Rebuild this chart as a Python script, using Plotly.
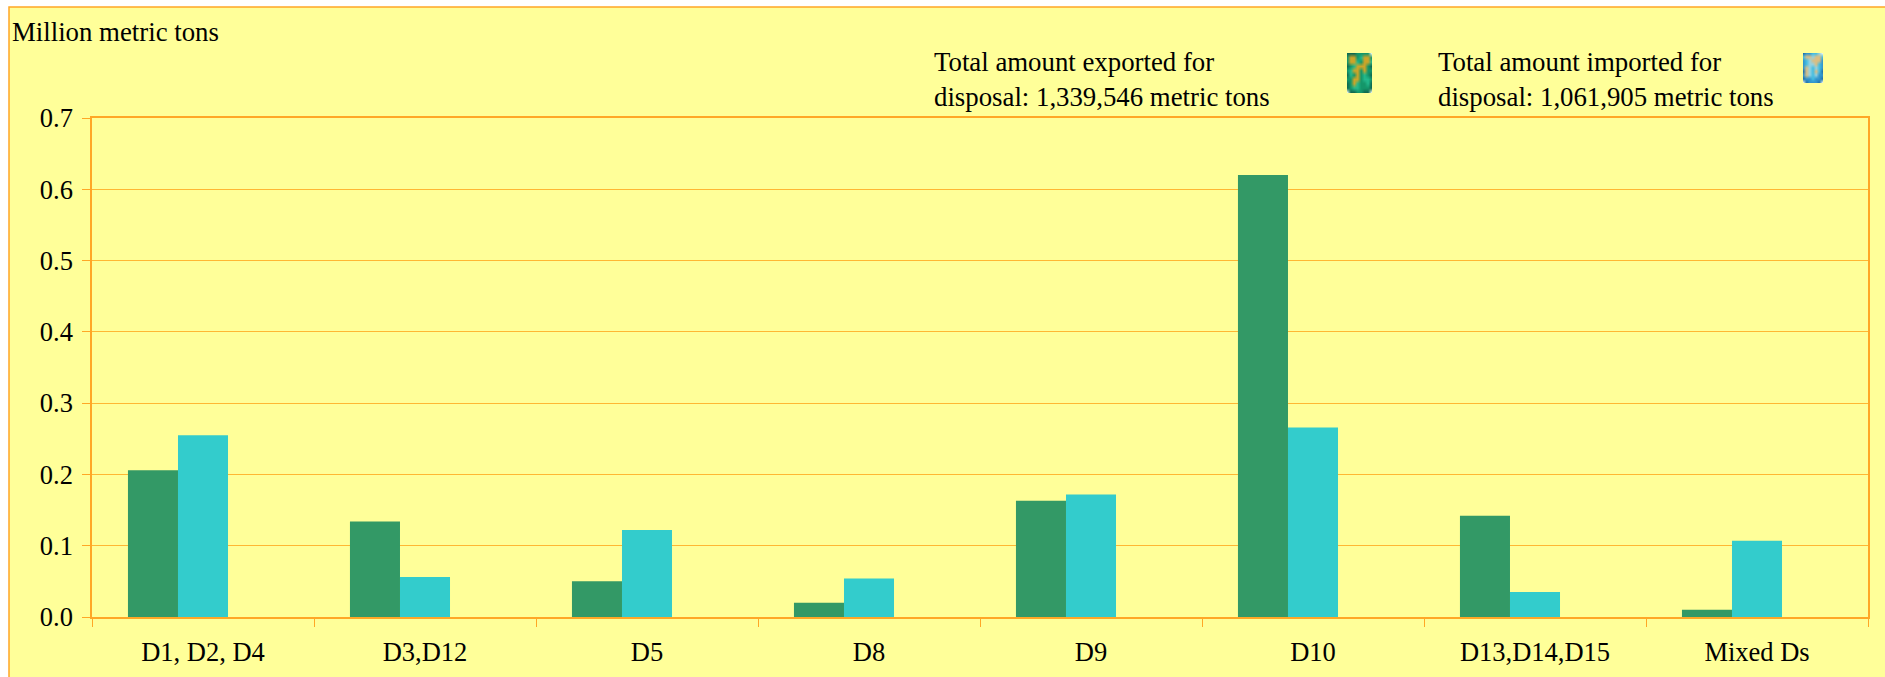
import base64, struct, zlib
import numpy as np
import plotly.graph_objects as go

categories = ["D1, D2, D4", "D3,D12", "D5", "D8", "D9", "D10", "D13,D14,D15", "Mixed Ds"]
exported = [0.206, 0.134, 0.050, 0.020, 0.163, 0.620, 0.142, 0.010]
imported = [0.255, 0.056, 0.122, 0.054, 0.172, 0.266, 0.035, 0.107]
empty_series = [None] * 8
y_ticks = [0, 0.1, 0.2, 0.3, 0.4, 0.5, 0.6, 0.7]
y_tick_labels = ["0.0", "0.1", "0.2", "0.3", "0.4", "0.5", "0.6", "0.7"]

W, H = 1885, 677
L, R, T, B = 92, 1868, 118, 617
YELLOW = "#FFFF99"
ORANGE = "#FFA726"
FONT = "Liberation Serif"


def px(x):
    return (x - L) / (R - L)


def py(y):
    return (B - y) / (B - T)


PAL = {
    "w": (235, 245, 235), "g": (20, 150, 105), "d": (15, 105, 80),
    "y": (205, 165, 40), "t": (35, 185, 140),
    "b": (50, 150, 205), "c": (70, 190, 225), "o": (220, 190, 130),
    "l": (150, 210, 225), "n": (30, 110, 170),
}
CAN_EXPORT = ["dddggggw", "gyygtyyg", "gyytgyyt", "dgtyyygd", "gtyygygg",
              "dtgygtgd", "ggyygttg", "dgytggtd", "dgttgggd", "wddggddw"]
CAN_IMPORT = ["nbbcclw", "coolooc", "bclooob", "bcllocb", "bolclcb",
              "nolcocn", "bolclbb", "nbbcbbn", "wnbbbnw"]


def png_uri(rows, scale=4):
    grid = np.array([[PAL[c] for c in r] for r in rows], dtype=float)
    h, w = grid.shape[:2]
    yi = np.linspace(0, h - 1, h * scale)
    xi = np.linspace(0, w - 1, w * scale)
    y0 = np.floor(yi).astype(int); y1 = np.minimum(y0 + 1, h - 1); fy = (yi - y0)[:, None, None]
    x0 = np.floor(xi).astype(int); x1 = np.minimum(x0 + 1, w - 1); fx = (xi - x0)[None, :, None]
    smooth = (grid[y0][:, x0] * (1 - fx) + grid[y0][:, x1] * fx) * (1 - fy) + \
             (grid[y1][:, x0] * (1 - fx) + grid[y1][:, x1] * fx) * fy
    smooth = smooth.round().astype(np.uint8)
    raw = b"".join(b"\x00" + row.tobytes() for row in smooth)

    def chunk(tag, data):
        return struct.pack(">I", len(data)) + tag + data + struct.pack(">I", zlib.crc32(tag + data))

    png = (b"\x89PNG\r\n\x1a\n"
           + chunk(b"IHDR", struct.pack(">IIBBBBB", smooth.shape[1], smooth.shape[0], 8, 2, 0, 0, 0))
           + chunk(b"IDAT", zlib.compress(raw)) + chunk(b"IEND", b""))
    return "data:image/png;base64," + base64.b64encode(png).decode()


fig = go.Figure()
for name, vals, color in [("Exported", exported, "#339966"), ("Imported", imported, "#33CCCC"),
                          ("Other", empty_series, "#FFFF99")]:
    fig.add_bar(x=categories, y=vals, name=name, marker=dict(color=color, line_width=0))

axis_font = dict(family=FONT, size=26.5, color="#000000")
note_font = dict(family=FONT, size=26.8, color="#000000")


def note(text, x, y, anchor="left"):
    fig.add_annotation(text=text, xref="paper", yref="paper", x=px(x), y=py(y), xanchor=anchor,
                       yanchor="top", showarrow=False, align="left", font=note_font,
                       borderpad=0, borderwidth=0)


note("Million metric tons", 12, 17)
note("Total amount exported for<br>disposal: 1,339,546 metric tons", 934, 47)
note("Total amount imported for<br>disposal: 1,061,905 metric tons", 1438, 47)

fig.update_layout(
    width=W, height=H, margin=dict(l=L, r=W - R, t=T, b=H - B, pad=0, autoexpand=False),
    paper_bgcolor="#FFFFFF", plot_bgcolor=YELLOW, showlegend=False, barmode="group",
    bargap=0.324, bargroupgap=0, hovermode=False,
    font=axis_font,
    shapes=[dict(type="rect", xref="paper", yref="paper", x0=px(9), x1=px(W + 10), y0=py(7), y1=py(H + 10),
                 fillcolor=YELLOW, line=dict(color=ORANGE, width=1.5), layer="below")],
    images=[
        dict(source=png_uri(CAN_EXPORT), xref="paper", yref="paper", x=px(1347), y=py(53),
             sizex=px(1372) - px(1347), sizey=py(53) - py(93), sizing="stretch", xanchor="left", yanchor="top"),
        dict(source=png_uri(CAN_IMPORT), xref="paper", yref="paper", x=px(1803), y=py(53),
             sizex=px(1823) - px(1803), sizey=py(53) - py(83), sizing="stretch", xanchor="left", yanchor="top"),
    ],
    xaxis=dict(type="category", tickson="boundaries", ticks="outside", ticklen=8, tickwidth=1, tickcolor=ORANGE,
               showline=True, linecolor=ORANGE, linewidth=1.5, mirror=True, showgrid=False,
               ticklabelstandoff=10, tickfont=axis_font),
    yaxis=dict(range=[0, 0.7], tickmode="array", tickvals=y_ticks, ticktext=y_tick_labels,
               ticks="outside", ticklen=8, tickwidth=1, tickcolor=ORANGE,
               showline=True, linecolor=ORANGE, linewidth=1.5, mirror=True,
               showgrid=True, gridcolor="#FFB733", gridwidth=1, zeroline=False,
               ticklabelstandoff=4, tickfont=axis_font),
)
fig.write_html("out.html", config={"displayModeBar": False},
               post_script="document.body.style.margin='0';document.documentElement.style.overflow='hidden';")
